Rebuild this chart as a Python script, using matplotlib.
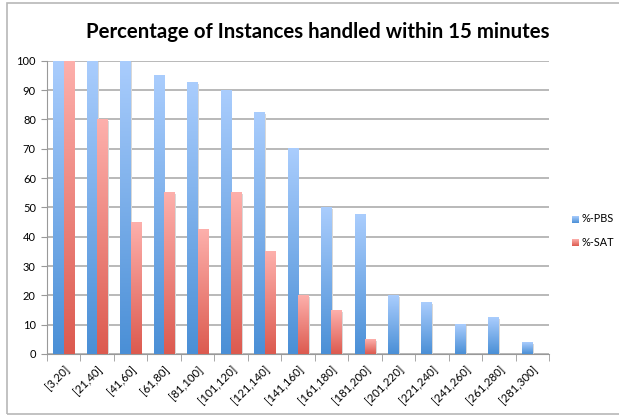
import matplotlib.pyplot as plt
import numpy as np
from matplotlib.colors import LinearSegmentedColormap
from matplotlib.patches import Rectangle

plt.rcParams['font.family'] = ['Lato', 'DejaVu Sans']

ranges = ["[3,20]", "[21,40]", "[41,60]", "[61,80]", "[81,100]", "[101,120]",
          "[121,140]", "[141,160]", "[161,180]", "[181,200]", "[201,220]",
          "[221,240]", "[241,260]", "[261,280]", "[281,300]"]
pbs = [100, 100, 100, 95, 92.7, 90, 82.5, 70, 50, 47.5, 20, 17.5, 10, 12.5, 4]
sat = [100, 80, 45, 55, 42.5, 55, 35, 20, 15, 5, 0, 0, 0, 0, 0]

# light top, darker bottom, like the office gradient fill
blue_cmap = LinearSegmentedColormap.from_list("pbs", ["#4a8fd6", "#aacdfd"])
red_cmap = LinearSegmentedColormap.from_list("sat", ["#dc5a4f", "#fdb0ac"])

fig = plt.figure(figsize=(6.19, 4.16), dpi=100)
ax = fig.add_axes([47 / 619, 1 - 354 / 416, 502 / 619, 293.3 / 416])

# chart frame
fig.patches.append(Rectangle((7 / 619, 2 / 416), 1.2, 411 / 416, transform=fig.transFigure,
                             fill=False, edgecolor="#b8b8b8", lw=1.2))

x = np.arange(len(ranges))
w = 0.31
bars_pbs = ax.bar(x - w / 2, pbs, w, color="none", label="%-PBS", zorder=3)
bars_sat = ax.bar(x + w / 2, sat, w, color="none", label="%-SAT", zorder=3)

grad = np.linspace(0, 1, 256).reshape(-1, 1)


def fill_gradient(bars, cmap):
    for b in bars:
        h = b.get_height()
        if h <= 0:
            continue
        x0 = b.get_x()
        x1 = x0 + b.get_width()
        # faint shadow on the right
        ax.add_patch(Rectangle((x1, 0), 0.04, h - 0.6, color="#d8d8d8", zorder=2, lw=0))
        ax.imshow(grad, extent=(x0, x1, 0, h), origin="lower", aspect="auto",
                  cmap=cmap, zorder=3, interpolation="bicubic")


fill_gradient(bars_pbs, blue_cmap)
fill_gradient(bars_sat, red_cmap)

ax.set_xlim(-0.5, len(ranges) - 0.5)
ax.set_ylim(0, 100)
ax.set_yticks(range(0, 101, 10))
ax.tick_params(axis="y", labelsize=8, length=4, color="#999999", pad=4)
ax.yaxis.grid(True, color="#a6a6a6", lw=1.1, zorder=0)
ax.set_axisbelow(True)

ax.set_xticks(x)
ax.set_xticklabels(ranges, rotation=45, ha="right", rotation_mode="anchor", fontsize=8.2)
ax.tick_params(axis="x", length=0, pad=7)
# category separators on the bottom axis
ax.set_xticks(np.arange(-0.5, len(ranges), 1), minor=True)
ax.tick_params(axis="x", which="minor", length=5, color="#999999")

for s in ["top", "right"]:
    ax.spines[s].set_visible(False)
ax.spines["left"].set_color("#999999")
ax.spines["bottom"].set_color("#999999")

fig.text(0.514, 1 - 32 / 416, "Percentage of Instances handled within 15 minutes",
         ha="center", va="center", fontsize=14.7, fontweight="bold")

# legend with gradient swatches
for i, (name, cmap) in enumerate([("%-PBS", blue_cmap), ("%-SAT", red_cmap)]):
    yc = 1 - (219 + 23 * i) / 416
    sw = fig.add_axes([572 / 619, yc - 3.5 / 416, 7 / 619, 7 / 416])
    sw.imshow(grad, origin="lower", aspect="auto", cmap=cmap)
    sw.set_axis_off()
    fig.text(581 / 619, yc, name, ha="left", va="center", fontsize=7.8)

fig.savefig("out.png", dpi=100)
